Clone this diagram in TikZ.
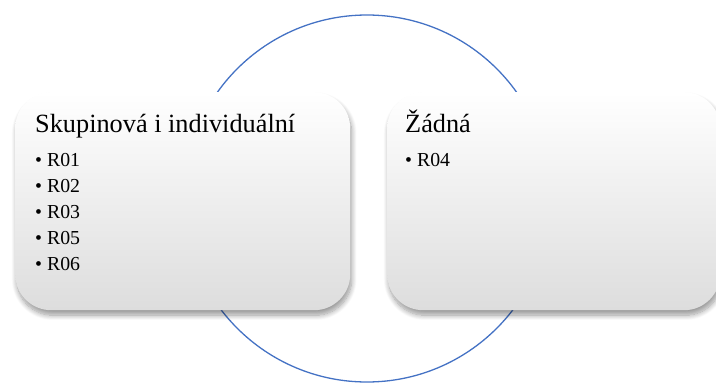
\documentclass[tikz,border=0pt]{standalone}
\usepackage{fontspec}
\setmainfont{Liberation Serif}
\usetikzlibrary{shadows.blur}
\definecolor{ringblue}{HTML}{4472C4}
\definecolor{boxbot}{HTML}{DDDDDD}
\tikzset{
  panel/.style={rounded corners=36pt, top color=white, bottom color=boxbot,
    blur shadow={shadow xshift=1.5pt, shadow yshift=-5pt, shadow blur steps=10, shadow blur radius=5pt, shadow opacity=40},
    draw=none, inner sep=0pt, anchor=north west},
  title/.style={anchor=base west, inner sep=0pt, font=\fontsize{26.3}{30}\selectfont},
  item/.style={anchor=base west, inner sep=0pt, font=\fontsize{19.8}{23}\selectfont},
}
\begin{document}
\begin{tikzpicture}[x=1pt,y=-1pt]
\useasboundingbox (0,0) rectangle (716,383);
\node[circle, draw=ringblue, line width=1.3pt, minimum size=367pt, inner sep=0pt] (ring) at (367,198.5) {};
\begin{scope}
\clip (0,0) rectangle (716,383);
\node[panel, minimum width=335pt, minimum height=218pt] (left) at (15,92) {};
\node[panel, minimum width=333pt, minimum height=218pt] (right) at (387,92) {};
\end{scope}
\node[title] (ltitle) at (35,132) {Skupinová i individuální};
\node[item] (l1) at (35,166) {\textbullet\ R01};
\node[item] (l2) at (35,192) {\textbullet\ R02};
\node[item] (l3) at (35,218) {\textbullet\ R03};
\node[item] (l4) at (35,244) {\textbullet\ R05};
\node[item] (l5) at (35,270) {\textbullet\ R06};
\node[title] (rtitle) at (405,132) {Žádná};
\node[item] (r1) at (405,166) {\textbullet\ R04};
\end{tikzpicture}
\end{document}
